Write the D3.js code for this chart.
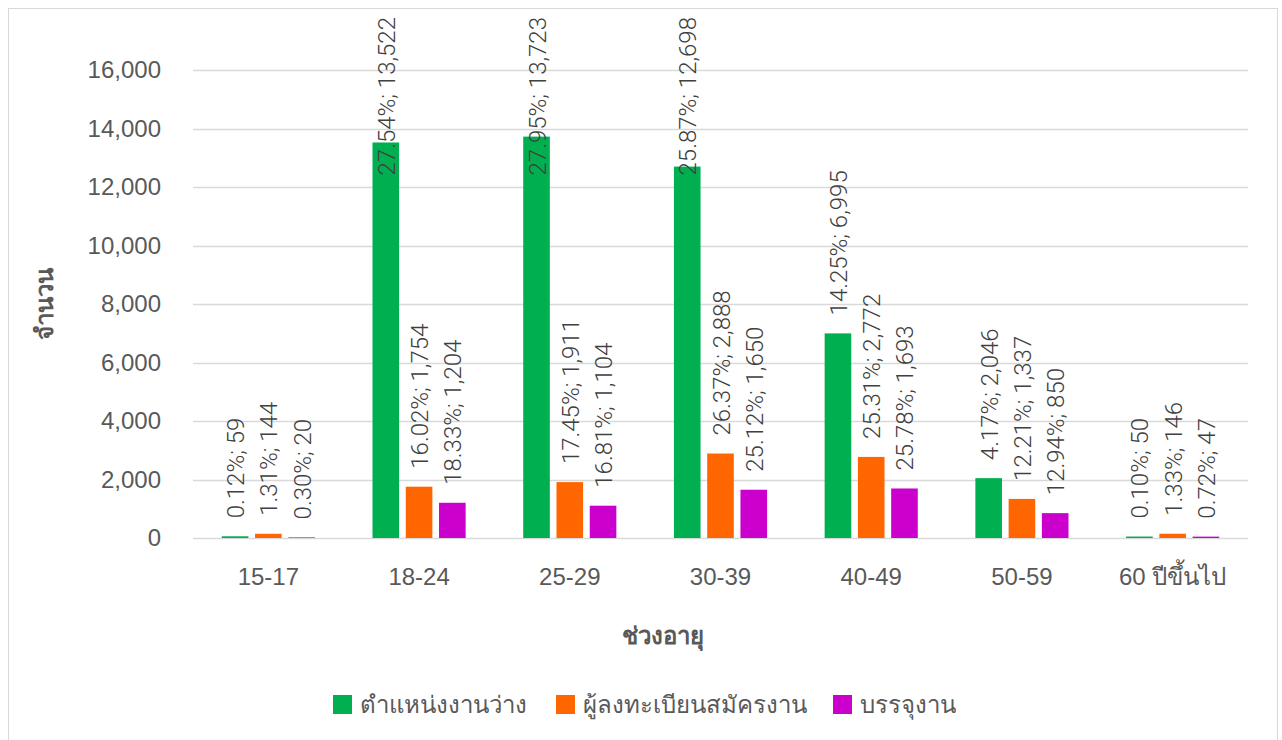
<!DOCTYPE html>
<html>
<head>
<meta charset="utf-8">
<script src="https://cdn.jsdelivr.net/npm/d3@7"></script>
<style>
  body { margin: 0; background: #fff; }
  svg { display: block; font-family: Roboto, "Noto Sans", sans-serif; }
</style>
</head>
<body>
<svg width="1282" height="740"></svg>
<script>
// age groups
var categories = ["15-17", "18-24", "25-29", "30-39", "40-49", "50-59", "60 ปีขึ้นไป"];

// series
var vacancies = [59, 13522, 13723, 12698, 6995, 2046, 50];
var vacancyPct = ["0.12%", "27.54%", "27.95%", "25.87%", "14.25%", "4.17%", "0.10%"];
var registrants = [144, 1754, 1911, 2888, 2772, 1337, 146];
var registrantPct = ["1.31%", "16.02%", "17.45%", "26.37%", "25.31%", "12.21%", "1.33%"];
var placements = [20, 1204, 1104, 1650, 1693, 850, 47];
var placementPct = ["0.30%", "18.33%", "16.81%", "25.12%", "25.78%", "12.94%", "0.72%"];

var seriesNames = ["ตำแหน่งงานว่าง", "ผู้ลงทะเบียนสมัครงาน", "บรรจุงาน"];
var yTicks = [0, 2000, 4000, 6000, 8000, 10000, 12000, 14000, 16000];

var series = [
  { name: seriesNames[0], values: vacancies, pct: vacancyPct, color: "#00b050" },
  { name: seriesNames[1], values: registrants, pct: registrantPct, color: "#ff6600" },
  { name: seriesNames[2], values: placements, pct: placementPct, color: "#cc00cc" }
];

var svg = d3.select("svg");
var plot = { left: 193, right: 1248, top: 70, bottom: 538 };
var fs = 24;

// chart border
svg.append("rect")
  .attr("x", 8.5).attr("y", 8.5)
  .attr("width", 1269).attr("height", 740)
  .attr("fill", "none").attr("stroke", "#d9d9d9");

var x0 = d3.scaleBand().domain(categories).range([plot.left, plot.right]);
var x1 = d3.scaleBand().domain(d3.range(3))
  .range([x0.bandwidth() * 0.191, x0.bandwidth() * 0.809])
  .paddingInner(0.2);
var y = d3.scaleLinear().domain([0, 16000]).range([plot.bottom, plot.top]);

// gridlines
svg.append("g").selectAll("line")
  .data(yTicks)
  .enter().append("line")
  .attr("x1", plot.left).attr("x2", plot.right)
  .attr("y1", d => Math.round(y(d)) + 0.5).attr("y2", d => Math.round(y(d)) + 0.5)
  .attr("stroke", "#d9d9d9").attr("stroke-width", 1.3);

// y axis labels
var yAxis = svg.append("g")
  .attr("transform", `translate(${plot.left - 32},0)`)
  .call(d3.axisLeft(y).tickValues(yTicks).tickFormat(d3.format(",")).tickSize(0).tickPadding(0));
yAxis.select(".domain").remove();
yAxis.selectAll("text")
  .attr("font-size", fs).attr("font-weight", 300)
  .attr("fill", "#595959").attr("font-family", null);

// x axis labels
var xAxis = svg.append("g")
  .attr("transform", `translate(0,${plot.bottom + 30})`)
  .call(d3.axisBottom(x0).tickSize(0).tickPadding(0));
xAxis.select(".domain").remove();
xAxis.selectAll("text")
  .attr("font-size", fs).attr("font-weight", 300)
  .attr("fill", "#595959").attr("font-family", null);

// bars
var groups = svg.append("g").selectAll("g")
  .data(categories)
  .enter().append("g")
  .attr("transform", d => `translate(${x0(d)},0)`);

groups.selectAll("rect")
  .data((c, i) => series.map((s, j) => ({ s: s, j: j, v: s.values[i], p: s.pct[i] })))
  .enter().append("rect")
  .attr("x", d => x1(d.j))
  .attr("width", x1.bandwidth())
  .attr("y", d => y(d.v))
  .attr("height", d => y(0) - y(d.v))
  .attr("fill", d => d.s.color);

// data labels, rotated, kept inside chart area
var fmt = d3.format(",");
groups.selectAll("text.lbl")
  .data((c, i) => series.map((s, j) => ({ s: s, j: j, v: s.values[i], p: s.pct[i] })))
  .enter().append("text")
  .attr("class", "lbl")
  .attr("font-size", fs).attr("font-weight", 300)
  .attr("fill", "#404040")
  .attr("dominant-baseline", "central")
  .text(d => `${d.p}; ${fmt(d.v)}`)
  .each(function (d) {
    var len = this.getComputedTextLength();
    var start = Math.max(y(d.v) - 18, 17 + len);
    var cx = x1(d.j) + x1.bandwidth() / 2 + 1;
    d3.select(this).attr("transform", `translate(${cx},${start}) rotate(-90)`);
  });

// axis titles
svg.append("text")
  .attr("transform", `translate(45,${(plot.top + plot.bottom) / 2}) rotate(-90)`)
  .attr("text-anchor", "middle").attr("dominant-baseline", "central")
  .attr("font-size", fs).attr("font-weight", 700).attr("fill", "#595959")
  .text("จำนวน");

svg.append("text")
  .attr("x", 663).attr("y", 636)
  .attr("text-anchor", "middle").attr("dominant-baseline", "central")
  .attr("font-size", fs).attr("font-weight", 700).attr("fill", "#595959")
  .text("ช่วงอายุ");

// legend
var legendX = [333, 556, 833];
var legend = svg.append("g").selectAll("g")
  .data(series)
  .enter().append("g")
  .attr("transform", (d, i) => `translate(${legendX[i]},695)`);
legend.append("rect")
  .attr("width", 19).attr("height", 19)
  .attr("fill", d => d.color);
legend.append("text")
  .attr("x", 27).attr("y", 10)
  .attr("dominant-baseline", "central")
  .attr("font-size", fs).attr("font-weight", 300).attr("fill", "#595959")
  .text(d => d.name);
</script>
</body>
</html>
